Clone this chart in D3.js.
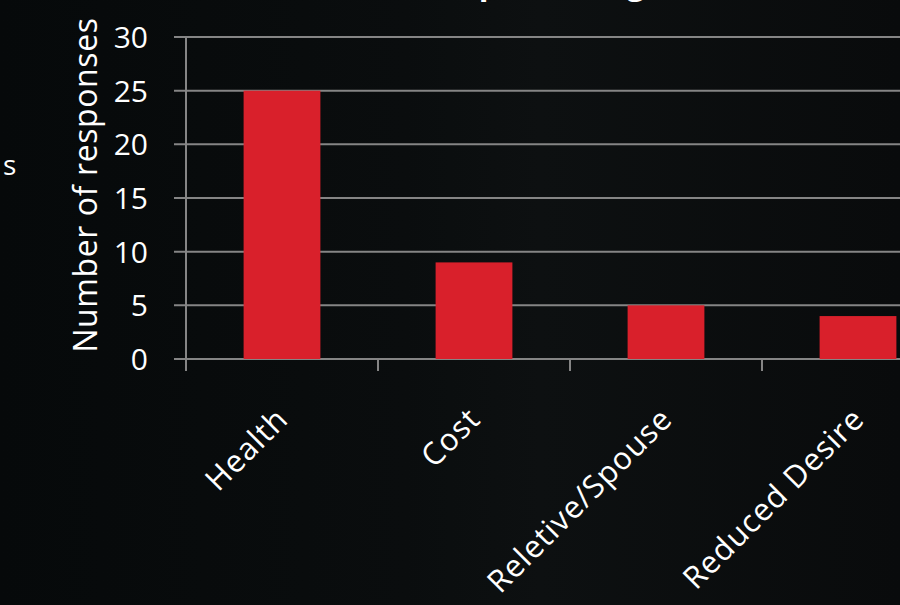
<!DOCTYPE html>
<meta charset="utf-8">
<style>
    body { margin: 0; background: #07090a; }
    svg text { font-family: "Open Sans", sans-serif; fill: #fff; }
</style>
<svg width="900" height="605"></svg>
<script src="https://d3js.org/d3.v7.min.js"></script>
<script>
    var categories = ["Health", "Cost", "Reletive/Spouse", "Reduced Desire"];
    var responses = [25, 9, 5, 4];
    var yTicks = [0, 5, 10, 15, 20, 25, 30];

    var svg = d3.select("svg");

    // dark slide background with a faint lighter patch in the middle
    var defs = svg.append("defs");
    var grad = defs.append("linearGradient").attr("id", "bg").attr("x1", 0).attr("x2", 1);
    grad.append("stop").attr("offset", "0%").attr("stop-color", "#06090a");
    grad.append("stop").attr("offset", "45%").attr("stop-color", "#0a0d0e");
    grad.append("stop").attr("offset", "60%").attr("stop-color", "#0d1011");
    grad.append("stop").attr("offset", "100%").attr("stop-color", "#090b0c");
    svg.append("rect").attr("width", 900).attr("height", 605).attr("fill", "url(#bg)");

    var plotLeft = 186, plotTop = 37, plotBottom = 359;
    var x = d3.scaleBand().domain(categories).range([plotLeft, plotLeft + 4 * 192]).paddingInner(0.6).paddingOuter(0.3);
    var y = d3.scaleLinear().domain([0, 30]).range([plotBottom, plotTop]);

    // horizontal gridlines + y tick marks
    svg.append("g").selectAll("line").data(yTicks).enter().append("line")
        .attr("x1", plotLeft - 12).attr("x2", 900)
        .attr("y1", function (d) { return y(d); })
        .attr("y2", function (d) { return y(d); })
        .attr("stroke", "#858585").attr("stroke-width", 2);

    // y axis line
    svg.append("line").attr("x1", plotLeft).attr("x2", plotLeft)
        .attr("y1", plotTop).attr("y2", plotBottom + 12)
        .attr("stroke", "#858585").attr("stroke-width", 2);

    // category boundary ticks
    var step = x.step();
    svg.append("g").selectAll("line").data(categories).enter().append("line")
        .attr("x1", function (d, i) { return plotLeft + i * step; })
        .attr("x2", function (d, i) { return plotLeft + i * step; })
        .attr("y1", plotBottom).attr("y2", plotBottom + 12)
        .attr("stroke", "#858585").attr("stroke-width", 2);

    // bars
    svg.append("g").selectAll("rect").data(categories).enter().append("rect")
        .attr("x", function (d) { return x(d); })
        .attr("width", x.bandwidth())
        .attr("y", function (d, i) { return y(responses[i]); })
        .attr("height", function (d, i) { return plotBottom - y(responses[i]); })
        .attr("fill", "#d9202b");

    // y tick labels
    svg.append("g").selectAll("text").data(yTicks).enter().append("text")
        .attr("x", 148)
        .attr("y", function (d) { return y(d) + 11; })
        .attr("text-anchor", "end")
        .style("font-size", "30px")
        .text(function (d) { return d; });

    // category labels, rotated
    svg.append("g").selectAll("text").data(categories).enter().append("text")
        .attr("text-anchor", "end")
        .style("font-size", "31px").style("letter-spacing", "1px")
        .attr("transform", function (d) {
            return "translate(" + (x(d) + x.bandwidth() / 2 + 8) + ",421) rotate(-45)";
        })
        .text(function (d) { return d; });

    // y axis title
    svg.append("text")
        .attr("transform", "translate(97,185) rotate(-90)")
        .attr("text-anchor", "middle")
        .style("font-size", "32px").style("letter-spacing", "0.6px")
        .text("Number of responses");

    // title, mostly off the top of the frame
    svg.append("text")
        .attr("x", 445).attr("y", -6)
        .attr("text-anchor", "middle")
        .style("font-size", "32px").style("font-weight", "bold")
        .text("Reasons to Stop Smoking");

    // stray fragment of neighbouring slide text
    svg.append("text").attr("x", 3).attr("y", 175)
        .style("font-size", "28px").text("s");
</script>
